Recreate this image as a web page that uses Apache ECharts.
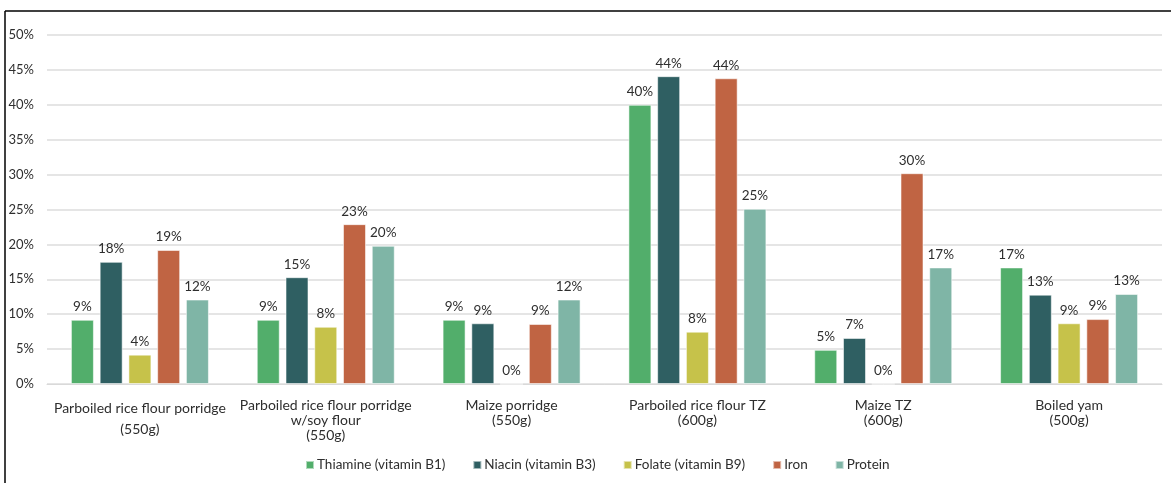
<!DOCTYPE html>
<html>
<head>
<meta charset="utf-8">
<script src="https://cdn.jsdelivr.net/npm/echarts@6/dist/echarts.min.js"></script>
<style>
html,body{margin:0;padding:0;background:#fff;}
#chart{width:1171px;height:483px;}
</style>
</head>
<body>
<div id="chart"></div>
<script>
const categories = [
  "Parboiled rice flour porridge\n(550g)",
  "Parboiled rice flour porridge\nw/soy flour\n(550g)",
  "Maize porridge\n(550g)",
  "Parboiled rice flour TZ\n(600g)",
  "Maize TZ\n(600g)",
  "Boiled yam\n(500g)"
];
const seriesNames = ["Thiamine (vitamin B1)", "Niacin (vitamin B3)", "Folate (vitamin B9)", "Iron", "Protein"];
const thiamine = [0.092, 0.092, 0.092, 0.400, 0.049, 0.167];
const niacin   = [0.175, 0.153, 0.087, 0.441, 0.066, 0.128];
const folate   = [0.042, 0.082, 0.000, 0.075, 0.000, 0.087];
const iron     = [0.192, 0.229, 0.086, 0.438, 0.302, 0.093];
const protein  = [0.121, 0.198, 0.121, 0.251, 0.167, 0.129];
const yTicks = [0, 0.05, 0.10, 0.15, 0.20, 0.25, 0.30, 0.35, 0.40, 0.45, 0.50];

const colors = ["#52ae6b", "#2f5f62", "#c6c24a", "#c06443", "#7fb5a6"];
const values = [thiamine, niacin, folate, iron, protein];
const FONT = "Lato";
const TXT = "#2e2e2e";

const chart = echarts.init(document.getElementById('chart'));
chart.setOption({
  animation: false,
  textStyle: {fontFamily: FONT, color: TXT},
  graphic: [
    {type: 'line', shape: {x1: 5, y1: 11, x2: 1171, y2: 11}, style: {stroke: '#000', lineWidth: 1.5}},
    {type: 'line', shape: {x1: 5, y1: 11, x2: 5, y2: 483}, style: {stroke: '#000', lineWidth: 1.5}}
  ],
  grid: {left: 47, right: 9, top: 35, bottom: 99, containLabel: false},
  legend: {
    bottom: 6,
    left: 300,
    icon: 'rect',
    itemWidth: 8,
    itemHeight: 8,
    itemGap: 27,
    textStyle: {fontFamily: FONT, fontSize: 13.5, color: TXT, padding: [0, 0, 0, -2]},
    data: seriesNames
  },
  xAxis: {
    type: 'category',
    data: categories,
    axisLine: {lineStyle: {color: '#d9d9d9', width: 1}},
    axisTick: {show: false},
    axisLabel: {
      interval: 0,
      margin: 14,
      fontFamily: FONT,
      fontSize: 14,
      color: TXT,
      overflow: 'none',
      formatter: function (v, i) {
        if (i === 0) {
          return v.split('\n').map(s => '{a|' + s + '}').join('\n');
        }
        return v.split('\n').map(s => '{b|' + s + '}').join('\n');
      },
      rich: {
        a: {fontFamily: FONT, fontSize: 14, color: TXT, lineHeight: 21, align: 'center'},
        b: {fontFamily: FONT, fontSize: 14, color: TXT, lineHeight: 15, align: 'center'}
      }
    }
  },
  yAxis: {
    type: 'value',
    min: 0,
    max: 0.5,
    interval: 0.05,
    axisLine: {show: false},
    axisTick: {show: false},
    splitLine: {lineStyle: {color: '#dcdcdc', width: 1.5}},
    axisLabel: {
      margin: 13,
      fontFamily: FONT,
      fontSize: 13,
      color: TXT,
      formatter: function (v) {
        const t = yTicks.find(x => Math.abs(x - v) < 1e-9);
        return Math.round((t !== undefined ? t : v) * 100) + '%';
      }
    }
  },
  series: seriesNames.map((name, k) => ({
    name: name,
    type: 'bar',
    data: values[k],
    barWidth: 23,
    barGap: '25%',
    itemStyle: {color: colors[k], borderColor: 'rgba(255,255,255,0.55)', borderWidth: 1},
    label: {
      show: true,
      position: 'top',
      distance: 6,
      fontFamily: FONT,
      fontSize: 13.5,
      color: TXT,
      formatter: p => Math.round(p.value * 100) + '%'
    }
  }))
});
</script>
</body>
</html>
